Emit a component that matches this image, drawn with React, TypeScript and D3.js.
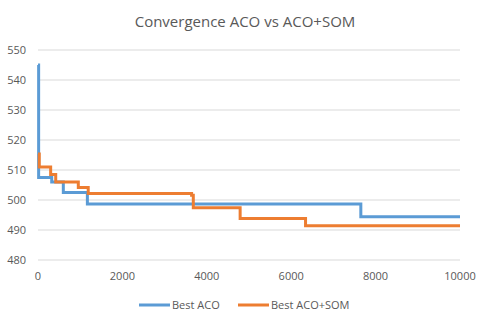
import React, { useEffect, useRef } from "react";
import * as d3 from "d3";

// step points: [iteration, best length]
const bestAco: [number, number][] = [
  [0, 545], [15, 507.5], [325, 506], [600, 502.5], [1170, 498.7], [7650, 494.4], [10000, 494.4],
];
const bestAcoSom: [number, number][] = [
  [0, 515.3], [30, 511], [300, 508.5], [420, 506], [955, 504.2], [1190, 502.2],
  [3640, 501.6], [3680, 497.4], [4790, 493.8], [6340, 491.4], [10000, 491.4],
];
const yTicks = [480, 490, 500, 510, 520, 530, 540, 550];
const xTicks = [0, 2000, 4000, 6000, 8000, 10000];
const seriesNames = ["Best ACO", "Best ACO+SOM"];
const colors = ["#5B9BD5", "#ED7D31"];

export default function App() {
  const ref = useRef<SVGSVGElement>(null);

  useEffect(() => {
    const svg = d3.select(ref.current);
    svg.selectAll("*").remove();
    const font = "Open Sans, sans-serif";

    const x = d3.scaleLinear().domain([0, 10000]).range([38, 460]);
    const y = d3.scaleLinear().domain([480, 550]).range([260, 50]);

    svg.append("rect").attr("width", 490).attr("height", 327).attr("fill", "#fff");

    svg.append("text")
      .attr("x", 245).attr("y", 27)
      .attr("text-anchor", "middle")
      .attr("font-family", font).attr("font-size", 15)
      .attr("fill", "#595959")
      .text("Convergence ACO vs ACO+SOM");

    svg.append("g").selectAll("line").data(yTicks).enter().append("line")
      .attr("x1", 38).attr("x2", 460)
      .attr("y1", (d) => y(d)).attr("y2", (d) => y(d))
      .attr("stroke", "#D9D9D9").attr("stroke-width", 1);

    svg.append("g").selectAll("text").data(yTicks).enter().append("text")
      .attr("x", 26).attr("y", (d) => y(d) + 4)
      .attr("text-anchor", "end")
      .attr("font-family", font).attr("font-size", 11)
      .attr("fill", "#595959")
      .text((d) => d);

    svg.append("g").selectAll("text").data(xTicks).enter().append("text")
      .attr("x", (d) => x(d)).attr("y", 280)
      .attr("text-anchor", "middle")
      .attr("font-family", font).attr("font-size", 11)
      .attr("fill", "#595959")
      .text((d) => d);

    const line = d3.line<[number, number]>()
      .x((d) => x(d[0]))
      .y((d) => y(d[1]))
      .curve(d3.curveStepAfter);

    [bestAco, bestAcoSom].forEach((s, i) => {
      svg.append("path")
        .attr("d", line(s))
        .attr("fill", "none")
        .attr("stroke", colors[i])
        .attr("stroke-width", 3);
    });

    const legendX = [139, 238];
    seriesNames.forEach((n, i) => {
      svg.append("line")
        .attr("x1", legendX[i]).attr("x2", legendX[i] + 31)
        .attr("y1", 305).attr("y2", 305)
        .attr("stroke", colors[i]).attr("stroke-width", 3);
      svg.append("text")
        .attr("x", legendX[i] + 33).attr("y", 309)
        .attr("font-family", font).attr("font-size", 11)
        .attr("fill", "#595959")
        .text(n);
    });
  }, []);

  return (
    <div style={{ position: "absolute", left: 0, top: 0 }}>
      <svg ref={ref} width={490} height={327} style={{ display: "block" }}></svg>
    </div>
  );
}
